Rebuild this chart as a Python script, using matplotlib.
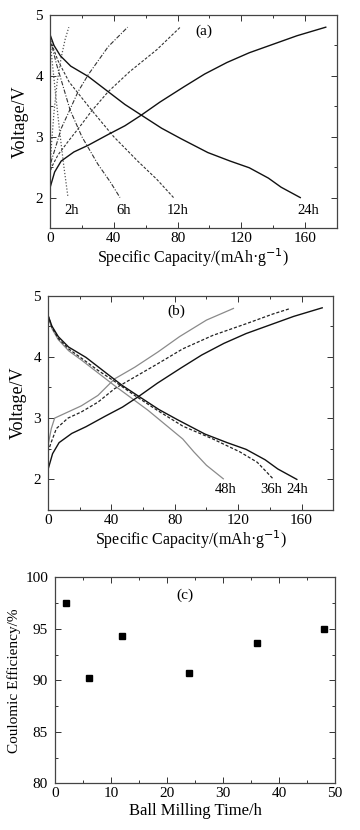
import matplotlib
matplotlib.use("Agg")
import matplotlib.pyplot as plt
from matplotlib.ticker import MultipleLocator

plt.rcParams["font.family"] = ["Liberation Serif", "DejaVu Serif"]

# (a) charge / discharge curves, capacity in mAh/g, voltage in V
cap_2h_chg = [0, 1, 2.5, 4.5, 7, 9.5, 11.8]
v_2h_chg = [2.45, 2.9, 3.4, 3.9, 4.3, 4.6, 4.8]
cap_2h_dis = [0, 1.5, 3.5, 6, 8.5, 11.3]
v_2h_dis = [4.6, 4.2, 3.7, 3.1, 2.55, 2.0]

cap_6h_chg = [0, 0.8, 4, 7.1, 12.4, 17.6, 24, 36.5, 48.7]
v_6h_chg = [2.43, 2.6, 2.87, 3.14, 3.44, 3.74, 4.02, 4.48, 4.8]
cap_6h_dis = [0, 4, 12.6, 20, 30, 38, 43.9]
v_6h_dis = [4.62, 4.2, 3.44, 3.0, 2.55, 2.25, 2.0]

cap_12h_chg = [0, 0.8, 5, 11.3, 19.7, 26, 36.5, 50, 67, 81.7]
v_12h_chg = [2.38, 2.49, 2.7, 2.92, 3.2, 3.42, 3.74, 4.07, 4.43, 4.8]
cap_12h_dis = [0, 5, 12, 26, 40, 55, 67, 77.5]
v_12h_dis = [4.6, 4.25, 3.9, 3.44, 3.0, 2.6, 2.3, 2.0]

cap_24h_chg = [0, 2.9, 7, 15, 24, 36, 47, 57, 69, 84, 97, 111, 125, 140, 155, 173]
v_24h_chg = [2.16, 2.42, 2.6, 2.75, 2.86, 3.03, 3.18, 3.35, 3.57, 3.82, 4.03,
             4.22, 4.38, 4.52, 4.66, 4.8]
cap_24h_dis = [0, 2.5, 6.5, 13, 24, 35.5, 47, 57, 70, 82, 99, 113, 125, 137, 145, 157]
v_24h_dis = [4.68, 4.5, 4.33, 4.16, 3.99, 3.76, 3.53, 3.36, 3.14, 2.97, 2.74,
             2.6, 2.49, 2.32, 2.17, 2.0]

# (b)
cap_36h_chg = [0, 2.1, 5.3, 12.6, 21, 31.5, 42, 54.7, 69.4, 85, 104, 125, 142, 153]
v_36h_chg = [2.45, 2.61, 2.83, 3.0, 3.1, 3.26, 3.48, 3.67, 3.89, 4.13, 4.35, 4.54, 4.7, 4.79]
cap_36h_dis = [0, 2.5, 6.5, 13, 21, 31.5, 42, 54.7, 69.4, 85, 104, 121, 132, 142]
v_36h_dis = [4.68, 4.48, 4.3, 4.13, 3.98, 3.78, 3.6, 3.37, 3.12, 2.87, 2.66, 2.45, 2.28, 2.01]

cap_48h_chg = [0, 2.1, 4.2, 8.4, 21, 31.5, 42, 54.7, 69.4, 83, 100, 117]
v_48h_chg = [2.55, 2.83, 3.0, 3.05, 3.2, 3.37, 3.64, 3.83, 4.08, 4.33, 4.6, 4.79]
cap_48h_dis = [0, 2.5, 6.5, 13, 21, 31.5, 42, 63, 85, 92, 100, 110.6]
v_48h_dis = [4.66, 4.46, 4.28, 4.1, 3.95, 3.74, 3.53, 3.13, 2.66, 2.45, 2.23, 2.01]

# (c) coulombic efficiency vs milling time
mill_time = [2, 6, 12, 24, 36, 48]
coul_eff = [97.5, 90.2, 94.3, 90.7, 93.6, 95.0]

labels_a = ["2h", "6h", "12h", "24h"]
labels_a_x = [13.7, 46.2, 79.8, 161.7]
labels_b = ["48h", "36h", "24h"]
labels_b_x = [112, 141, 157]

cap_label = "Specific Capacity/(mAh\u00b7g$^{-1}$)"


def style_axes(ax, xmaj, xmin, ymaj, ymin):
    ax.xaxis.set_major_locator(MultipleLocator(xmaj))
    ax.xaxis.set_minor_locator(MultipleLocator(xmin))
    ax.yaxis.set_major_locator(MultipleLocator(ymaj))
    ax.yaxis.set_minor_locator(MultipleLocator(ymin))
    ax.tick_params(which="both", direction="in", top=True, right=True,
                   labelsize=11, width=0.7, color="#333333")
    ax.tick_params(which="major", length=4)
    ax.tick_params(which="minor", length=2.5)
    ax.tick_params(axis="x", which="major", pad=3)
    ax.tick_params(axis="y", which="major", pad=5)
    for sp in ax.spines.values():
        sp.set_linewidth(0.9)
        sp.set_color("#444444")


fig = plt.figure(figsize=(3.6, 8.3), dpi=100)

# panel (a)
ax1 = fig.add_axes([0.1389, 0.7253, 0.797, 0.2566])
ax1.plot(cap_2h_chg, v_2h_chg, color="#555555", lw=0.9, ls=(0, (1, 1.5)))
ax1.plot(cap_2h_dis, v_2h_dis, color="#555555", lw=0.9, ls=(0, (1, 1.5)))
ax1.plot(cap_6h_chg, v_6h_chg, color="#333333", lw=0.8, ls=(0, (4, 1.5, 1, 1.5)))
ax1.plot(cap_6h_dis, v_6h_dis, color="#333333", lw=0.8, ls=(0, (4, 1.5, 1, 1.5)))
ax1.plot(cap_12h_chg, v_12h_chg, color="#333333", lw=0.8, ls=(0, (2.5, 1.5)))
ax1.plot(cap_12h_dis, v_12h_dis, color="#333333", lw=0.8, ls=(0, (2.5, 1.5)))
ax1.plot(cap_24h_chg, v_24h_chg, color="#111111", lw=1.0)
ax1.plot(cap_24h_dis, v_24h_dis, color="#111111", lw=1.0)
for t, x in zip(labels_a, labels_a_x):
    ax1.text(x, 1.78, t, ha="center", va="center", fontsize=10.5)
ax1.text(96.6, 4.73, "(a)", ha="center", va="center", fontsize=11)
ax1.set_xlim(0, 180)
ax1.set_ylim(1.5, 5)
style_axes(ax1, 40, 20, 1, 0.5)
ax1.set_xlabel(cap_label, fontsize=11.5, labelpad=1)
ax1.set_ylabel("Voltage/V", fontsize=13, labelpad=5)

# panel (b)
ax2 = fig.add_axes([0.1333, 0.3855, 0.7925, 0.2584])
ax2.plot(cap_48h_chg, v_48h_chg, color="#8a8a8a", lw=0.9)
ax2.plot(cap_48h_dis, v_48h_dis, color="#8a8a8a", lw=0.9)
ax2.plot(cap_36h_chg, v_36h_chg, color="#222222", lw=0.9, ls=(0, (2.5, 1.5)))
ax2.plot(cap_36h_dis, v_36h_dis, color="#222222", lw=0.9, ls=(0, (2.5, 1.5)))
ax2.plot(cap_24h_chg, v_24h_chg, color="#111111", lw=1.0)
ax2.plot(cap_24h_dis, v_24h_dis, color="#111111", lw=1.0)
for t, x in zip(labels_b, labels_b_x):
    ax2.text(x, 1.84, t, ha="center", va="center", fontsize=10.5)
ax2.text(80.8, 4.74, "(b)", ha="center", va="center", fontsize=11)
ax2.set_xlim(0, 180)
ax2.set_ylim(1.5, 5)
style_axes(ax2, 40, 20, 1, 0.5)
ax2.set_xlabel(cap_label, fontsize=11.5, labelpad=1)
ax2.set_ylabel("Voltage/V", fontsize=13, labelpad=5)

# panel (c)
ax3 = fig.add_axes([0.1528, 0.0563, 0.7778, 0.2482])
ax3.plot(mill_time, coul_eff, ls="none", marker="s", ms=4.5, color="black")
ax3.text(23.2, 98.3, "(c)", ha="center", va="center", fontsize=11)
ax3.set_xlim(0, 50)
ax3.set_ylim(80, 100)
style_axes(ax3, 10, 5, 5, 2.5)
ax3.set_xlabel("Ball Milling Time/h", fontsize=12, labelpad=2)
ax3.set_ylabel("Coulomic Efficiency/%", fontsize=11, labelpad=3)

fig.savefig("out.png", dpi=100)
